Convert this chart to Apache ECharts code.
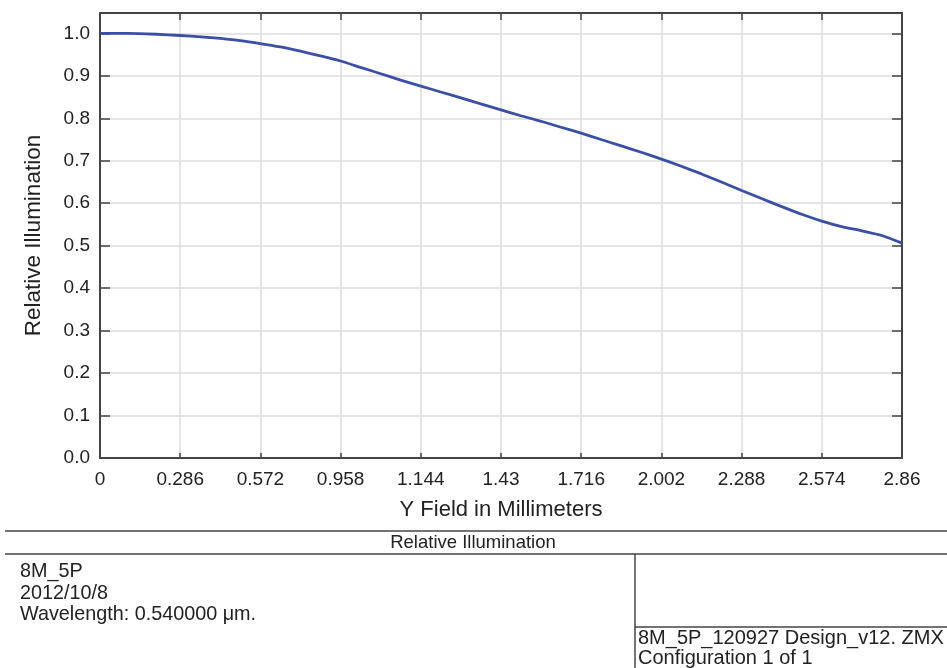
<!DOCTYPE html>
<html>
<head>
<meta charset="utf-8">
<script src="https://cdn.jsdelivr.net/npm/echarts@6/dist/echarts.min.js"></script>
<style>
  html, body { margin: 0; padding: 0; background: #fff; }
  #chart { width: 947px; height: 668px; }
</style>
</head>
<body>
<div id="chart"></div>
<script>
// Relative illumination versus image height
const fieldMm = [0, 0.1, 0.2, 0.286, 0.36, 0.429, 0.5, 0.572, 0.643, 0.715, 0.786, 0.858, 0.929, 1.001,
  1.072, 1.144, 1.215, 1.287, 1.358, 1.43, 1.501, 1.573, 1.644, 1.716, 1.787, 1.859, 1.93, 2.002,
  2.073, 2.145, 2.216, 2.288, 2.359, 2.431, 2.502, 2.574, 2.645, 2.717, 2.788, 2.86];
const relIllum = [1.0, 1.0, 0.998, 0.995, 0.992, 0.988, 0.983, 0.976, 0.968, 0.958, 0.947, 0.935, 0.920, 0.905,
  0.890, 0.876, 0.862, 0.848, 0.834, 0.820, 0.806, 0.793, 0.779, 0.765, 0.750, 0.735, 0.720, 0.704,
  0.687, 0.669, 0.650, 0.630, 0.611, 0.592, 0.574, 0.558, 0.545, 0.535, 0.524, 0.506];

const xTickLabels = ['0', '0.286', '0.572', '0.958', '1.144', '1.43', '1.716', '2.002', '2.288', '2.574', '2.86'];
const xStep = 0.286;
const yTickLabels = ['0.0', '0.1', '0.2', '0.3', '0.4', '0.5', '0.6', '0.7', '0.8', '0.9', '1.0'];

const titleText = 'Relative Illumination';
const infoLines = ['8M_5P', '2012/10/8', 'Wavelength: 0.540000 \u03BCm.'];
const fileLines = ['8M_5P_120927 Design_v12. ZMX', 'Configuration 1 of 1'];

const FONT = 'Liberation Sans, Arial, sans-serif';
const AXIS = '#444';
const GRID = '#dcdcdc';
const TEXT = '#222';

const chart = echarts.init(document.getElementById('chart'), null, { renderer: 'canvas' });

function xLabel(v) {
  const i = Math.round(v / xStep);
  return Math.abs(v - i * xStep) < 1e-6 ? (xTickLabels[i] || '') : '';
}
function yLabel(v) {
  const i = Math.round(v * 10);
  return Math.abs(v - i / 10) < 1e-6 ? (yTickLabels[i] || '') : '';
}

function frameLine() {
  return { show: true, onZero: false, lineStyle: { color: AXIS, width: 2 } };
}

chart.setOption({
  animation: false,
  backgroundColor: '#fff',
  grid: { left: 100, right: 45, top: 13, bottom: 210, containLabel: false },
  xAxis: [
    {
      type: 'value', min: 0, max: 2.86, interval: xStep, position: 'bottom',
      name: 'Y Field in Millimeters', nameLocation: 'middle', nameGap: 41,
      nameTextStyle: { fontFamily: FONT, fontSize: 22, color: TEXT },
      axisLine: frameLine(),
      axisTick: { show: true, inside: true, length: 5, lineStyle: { color: AXIS, width: 1.5 } },
      axisLabel: { formatter: xLabel, fontFamily: FONT, fontSize: 19, color: TEXT, margin: 12, showMaxLabel: true },
      splitLine: { show: true, lineStyle: { color: GRID, width: 1.5 } }
    },
    {
      type: 'value', min: 0, max: 2.86, interval: xStep, position: 'top',
      axisLine: frameLine(),
      axisTick: { show: true, inside: true, length: 7, lineStyle: { color: AXIS, width: 1.5 } },
      axisLabel: { show: false },
      splitLine: { show: false }
    }
  ],
  yAxis: [
    {
      type: 'value', min: 0, max: 1.048, interval: 0.1, position: 'left',
      name: 'Relative Illumination', nameLocation: 'middle', nameGap: 55,
      nameTextStyle: { fontFamily: FONT, fontSize: 22.5, color: TEXT },
      axisLine: frameLine(),
      axisTick: { show: true, inside: true, length: 10, lineStyle: { color: AXIS, width: 1.5 } },
      axisLabel: { formatter: yLabel, fontFamily: FONT, fontSize: 19, color: TEXT, margin: 10 },
      splitLine: { show: true, lineStyle: { color: GRID, width: 1.5 } }
    },
    {
      type: 'value', min: 0, max: 1.048, interval: 0.1, position: 'right',
      axisLine: frameLine(),
      axisTick: { show: true, inside: true, length: 10, lineStyle: { color: AXIS, width: 1.5 } },
      axisLabel: { show: false },
      splitLine: { show: false }
    }
  ],
  series: [{
    type: 'line',
    xAxisIndex: 0, yAxisIndex: 0,
    data: fieldMm.map((x, i) => [x, relIllum[i]]),
    smooth: 0.2,
    showSymbol: false,
    lineStyle: { color: '#3b4fa6', width: 2.8 }
  }],
  graphic: [
    // title bar of the report panel
    { type: 'line', shape: { x1: 5, y1: 531, x2: 947, y2: 531 }, style: { stroke: '#444', lineWidth: 1.5 } },
    { type: 'line', shape: { x1: 5, y1: 554, x2: 947, y2: 554 }, style: { stroke: '#444', lineWidth: 1.5 } },
    { type: 'text', x: 473, y: 543, style: { text: titleText, font: '18.5px ' + FONT, fill: TEXT, align: 'center', verticalAlign: 'middle' } },
    // file box on the lower right
    { type: 'line', shape: { x1: 635, y1: 554, x2: 635, y2: 668 }, style: { stroke: '#444', lineWidth: 1.5 } },
    { type: 'line', shape: { x1: 635, y1: 627, x2: 947, y2: 627 }, style: { stroke: '#444', lineWidth: 1.5 } },
    // left info lines
    ...infoLines.map((t, i) => ({ type: 'text', x: 20, y: 572 + i * 21.5, style: { text: t, font: '19.8px ' + FONT, fill: TEXT, verticalAlign: 'middle' } })),
    ...fileLines.map((t, i) => ({ type: 'text', x: 638, y: 638 + i * 20.5, style: { text: t, font: '20px ' + FONT, fill: TEXT, verticalAlign: 'middle' } }))
  ]
});
</script>
</body>
</html>
